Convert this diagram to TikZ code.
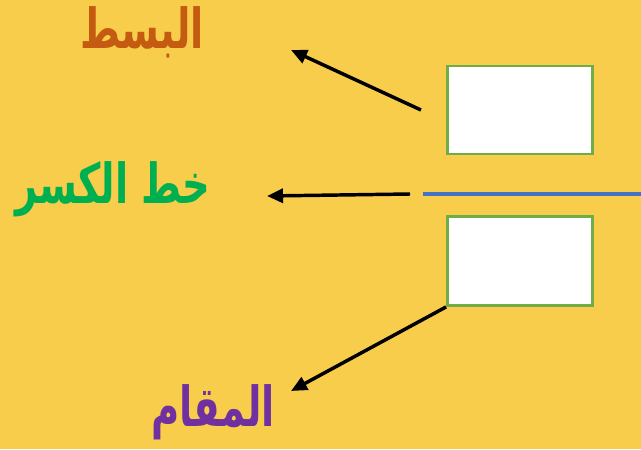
\documentclass[tikz,border=0pt]{standalone}
\usepackage{fontspec}
\usetikzlibrary{arrows.meta}
\TeXXeTstate=1
\newfontfamily\arabicfont[Script=Arabic]{DejaVu Sans}
\definecolor{bgY}{HTML}{F8CD4B}
\definecolor{boxG}{HTML}{70AD47}
\definecolor{lineB}{HTML}{4472C4}
\definecolor{txtO}{HTML}{C55A11}
\definecolor{txtG}{HTML}{00B050}
\definecolor{txtP}{HTML}{7030A0}
\begin{document}
\begin{tikzpicture}[x=0.75pt,y=-0.75pt,
  fracbox/.style={draw=boxG,line width=1.9pt,fill=white,inner sep=0pt},
  label/.style={font=\arabicfont\bfseries\fontsize{30}{36}\selectfont,inner sep=0pt,xscale=0.96,yscale=1.38},
  pointer/.style={line width=2.6pt,-{Triangle[length=12pt,width=10.5pt]}}]
\fill[bgY] (0,0) rectangle (641,449);
\useasboundingbox (0,0) rectangle (641,449);
\node[fracbox,minimum width=109pt,minimum height=66pt] (top) at (520,110) {};
\node[fracbox,minimum width=109pt,minimum height=67pt] (bot) at (520,261) {};
\coordinate (lineL) at (423,194);
\coordinate (lineR) at (641,194);
\draw[lineB,line width=2.3pt] (lineL) -- (lineR);
\node[label,text=txtO] (num) at (142,32) {\beginR البسط\endR};
\node[label,text=txtG] (bar) at (113,189) {\beginR خط الكسر\endR};
\node[label,text=txtP] (den) at (213,412) {\beginR المقام\endR};
\coordinate (s1) at (421,110);
\coordinate (e1) at (291,50);
\coordinate (s2) at (410,194);
\coordinate (e2) at (267,196);
\coordinate (e3) at (291,391);
\draw[pointer] (s1) -- (e1);
\draw[pointer] (s2) -- (e2);
\draw[pointer] (bot.south west) -- (e3);
\end{tikzpicture}
\end{document}
